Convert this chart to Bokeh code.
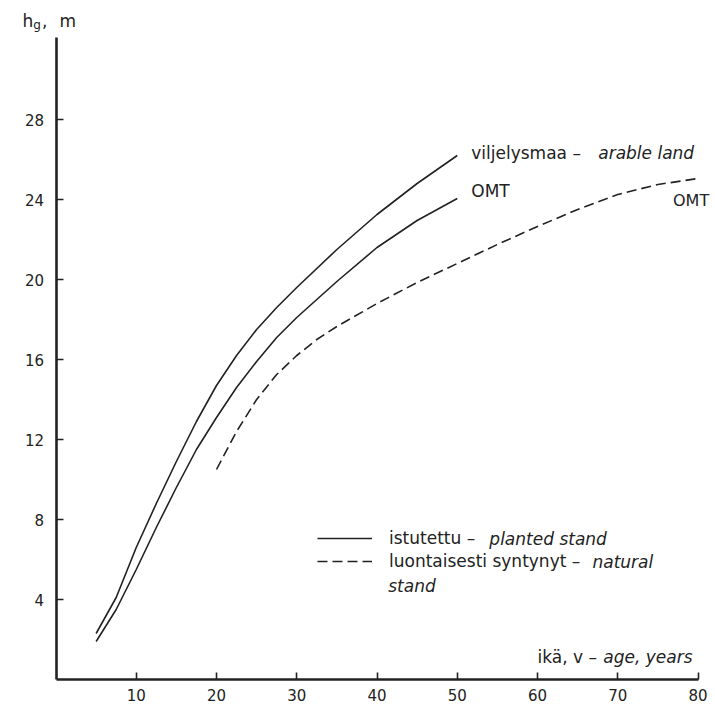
from bokeh.plotting import figure
from bokeh.models import Range1d, Label, Legend, LegendItem, FixedTicker
from bokeh.embed import file_html
from bokeh.resources import INLINE

# ---- data ----
age_planted = [5, 7.5, 10, 12.5, 15, 17.5, 20, 22.5, 25, 27.5, 30, 35, 40, 45, 50]
h_arable = [2.3, 4.1, 6.6, 8.8, 10.9, 12.9, 14.7, 16.2, 17.5, 18.6, 19.6, 21.5, 23.25, 24.8, 26.2]
h_omt_planted = [1.9, 3.5, 5.5, 7.6, 9.6, 11.5, 13.1, 14.6, 15.9, 17.1, 18.1, 19.9, 21.6, 22.95, 24.05]
age_natural = [20, 22.5, 25, 27.5, 30, 32.5, 35, 40, 45, 50, 55, 60, 65, 70, 75, 80]
h_omt_natural = [10.5, 12.4, 14.0, 15.25, 16.2, 17.0, 17.65, 18.8, 19.85, 20.8, 21.75, 22.65,
                 23.5, 24.25, 24.75, 25.05]

x_ticks = [10, 20, 30, 40, 50, 60, 70, 80]
y_ticks = [4, 8, 12, 16, 20, 24, 28]
x_axis_extent = (0, 80)
y_axis_extent = (0, 32.1)

# ---- layout (pixels) ----
W, H = 714, 705
ORIGIN_PX = (55.5, 679.0)       # canvas position of (0, 0)
PX_PER_X, PX_PER_Y = 8.025, 20.0
x_range = Range1d(-ORIGIN_PX[0] / PX_PER_X, (W - ORIGIN_PX[0]) / PX_PER_X)
y_range = Range1d(-(H - ORIGIN_PX[1]) / PX_PER_Y, ORIGIN_PX[1] / PX_PER_Y)

INK = "#222222"
FONT = "DejaVu Sans"
TXT = "17px"

p = figure(width=W, height=H, output_backend="svg", toolbar_location=None,
           x_range=x_range, y_range=y_range,
           min_border_left=0, min_border_right=0, min_border_top=0, min_border_bottom=0)
p.outline_line_color = None
p.grid.visible = False
p.background_fill_color = "white"
p.border_fill_color = "white"

for ax in (p.xaxis[0], p.yaxis[0]):
    ax.fixed_location = 0
    ax.axis_line_width = 2.6
    ax.axis_line_color = INK
    ax.major_tick_in = 7
    ax.major_tick_out = 0
    ax.major_tick_line_width = 1.6
    ax.major_tick_line_color = INK
    ax.minor_tick_line_color = None
    ax.major_label_text_font = FONT
    ax.major_label_text_font_size = "15px"
    ax.major_label_text_color = INK

p.xaxis[0].bounds = x_axis_extent
p.yaxis[0].bounds = y_axis_extent
p.xaxis[0].ticker = FixedTicker(ticks=x_ticks)
p.yaxis[0].ticker = FixedTicker(ticks=y_ticks)
p.xaxis[0].major_label_standoff = 9
p.yaxis[0].major_label_standoff = 12

r1 = p.line(age_planted, h_arable, line_color=INK, line_width=1.6)
r2 = p.line(age_planted, h_omt_planted, line_color=INK, line_width=1.6)
r3 = p.line(age_natural, h_omt_natural, line_color=INK, line_width=1.6, line_dash="10 5")

legend = Legend(items=[LegendItem(label="istutettu –", renderers=[r2]),
                       LegendItem(label="luontaisesti syntynyt –", renderers=[r3])],
                location=(317, 134), glyph_width=55, glyph_height=20, label_height=20,
                label_standoff=17, spacing=3, padding=0, margin=0,
                border_line_color=None, background_fill_alpha=0,
                label_text_font=FONT, label_text_font_size=TXT, label_text_color=INK)
p.add_layout(legend)


def lab(text, x, y, size=TXT, style="normal", xo=0, yo=0, baseline="middle"):
    p.add_layout(Label(x=x, y=y, text=text, x_offset=xo, y_offset=yo,
                       text_font=FONT, text_font_size=size, text_font_style=style,
                       text_color=INK, text_align="left", text_baseline=baseline))


# curve end labels
lab("viljelysmaa –", age_planted[-1], h_arable[-1], xo=14, yo=3)
lab("arable land", age_planted[-1], h_arable[-1], style="italic", xo=141, yo=3)
lab("OMT", age_planted[-1], h_omt_planted[-1], xo=14, yo=7.5)
lab("OMT", age_natural[-1], h_omt_natural[-1], size="16px", xo=-25, yo=-21.5)

# italic parts of the legend
lab("planted stand", 54.0, 7.05, style="italic")
lab("natural", 66.85, 5.9, style="italic")
lab("stand", 41.4, 4.7, style="italic")

# x axis title
lab("ikä, v –", 60.0, 1.15)
lab("age, years", 68.2, 1.15, style="italic")

# y axis title  h_g, m
lab("h", -4.17, 32.95, baseline="alphabetic")
lab("g", -2.85, 32.75, size="12px", baseline="alphabetic")
lab(",", -1.75, 32.95, baseline="alphabetic")
lab("m", 0.44, 32.95, baseline="alphabetic")

open("out.html", "w").write(file_html(p, INLINE))
